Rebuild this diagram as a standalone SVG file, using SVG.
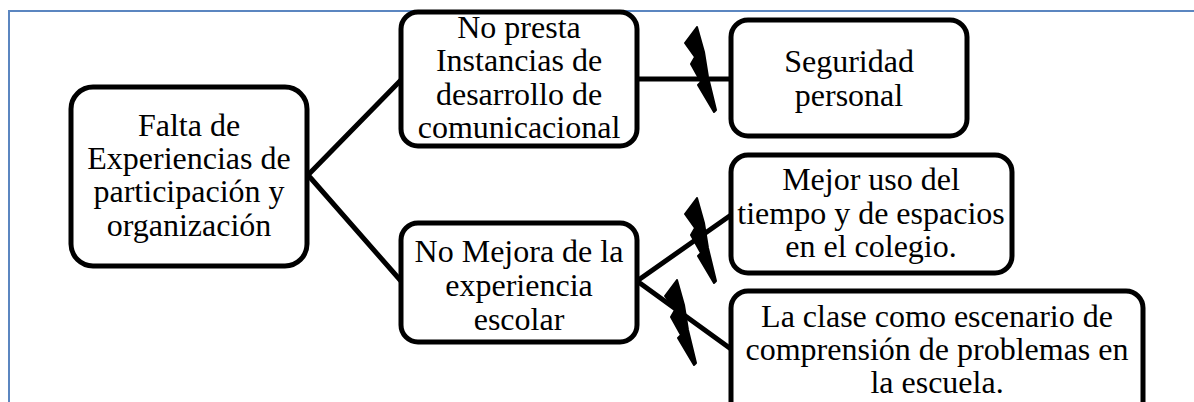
<svg xmlns="http://www.w3.org/2000/svg" width="1194" height="402" viewBox="0 0 1194 402">
<style>
.f{fill:none;stroke:#5b86c0;stroke-width:2}
.n{fill:#fff;stroke:#000;stroke-width:5}
.c{fill:none;stroke:#000;stroke-width:5}
.b{fill:#000;stroke:#000;stroke-width:2;stroke-linejoin:round}
text{font-family:"Liberation Serif","Times New Roman",serif;font-size:32px;fill:#000;text-anchor:middle}
</style>
<defs><path id="bolt" d="M0 0L-12 16L-2 30L-6 37L4 55L1 58L17 85L19 83L11 50L7 25Z"/></defs>
<path class="f" d="M9 410V11H1194"/>
<g id="connectors">
<path class="c" d="M308 175L401 80M308 175L401 281M637 79H731M637 281L731 215M637 281L731 349"/>
<use href="#bolt" class="b" x="697" y="27"/>
<use href="#bolt" class="b" x="697" y="198"/>
<use href="#bolt" class="b" x="677" y="280"/>
</g>
<g id="n1"><rect class="n" x="71" y="87" width="236" height="179" rx="22"/>
<text x="189" y="136">Falta de</text><text x="189" y="169">Experiencias de</text><text x="189" y="202">participación y</text><text x="189" y="236">organización</text></g>
<g id="n2"><rect class="n" x="401" y="12" width="236" height="134" rx="17"/>
<text x="519" y="38">No presta</text><text x="519" y="71">Instancias de</text><text x="519" y="105">desarrollo de</text><text x="519" y="138">comunicacional</text></g>
<g id="n3"><rect class="n" x="731" y="20" width="236" height="116" rx="17"/>
<text x="849" y="72">Seguridad</text><text x="849" y="106">personal</text></g>
<g id="n4"><rect class="n" x="401" y="223" width="236" height="119" rx="17"/>
<text x="519" y="262">No Mejora de la</text><text x="519" y="296">experiencia</text><text x="519" y="330">escolar</text></g>
<g id="n5"><rect class="n" x="731" y="155" width="281" height="118" rx="17"/>
<text x="871" y="190">Mejor uso del</text><text x="871" y="224">tiempo y de espacios</text><text x="871" y="257">en el colegio.</text></g>
<g id="n6"><rect class="n" x="731" y="291" width="412" height="135" rx="17"/>
<text x="937" y="327">La clase como escenario de</text><text x="937" y="360">comprensión de problemas en</text><text x="937" y="393">la escuela.</text></g>
</svg>
